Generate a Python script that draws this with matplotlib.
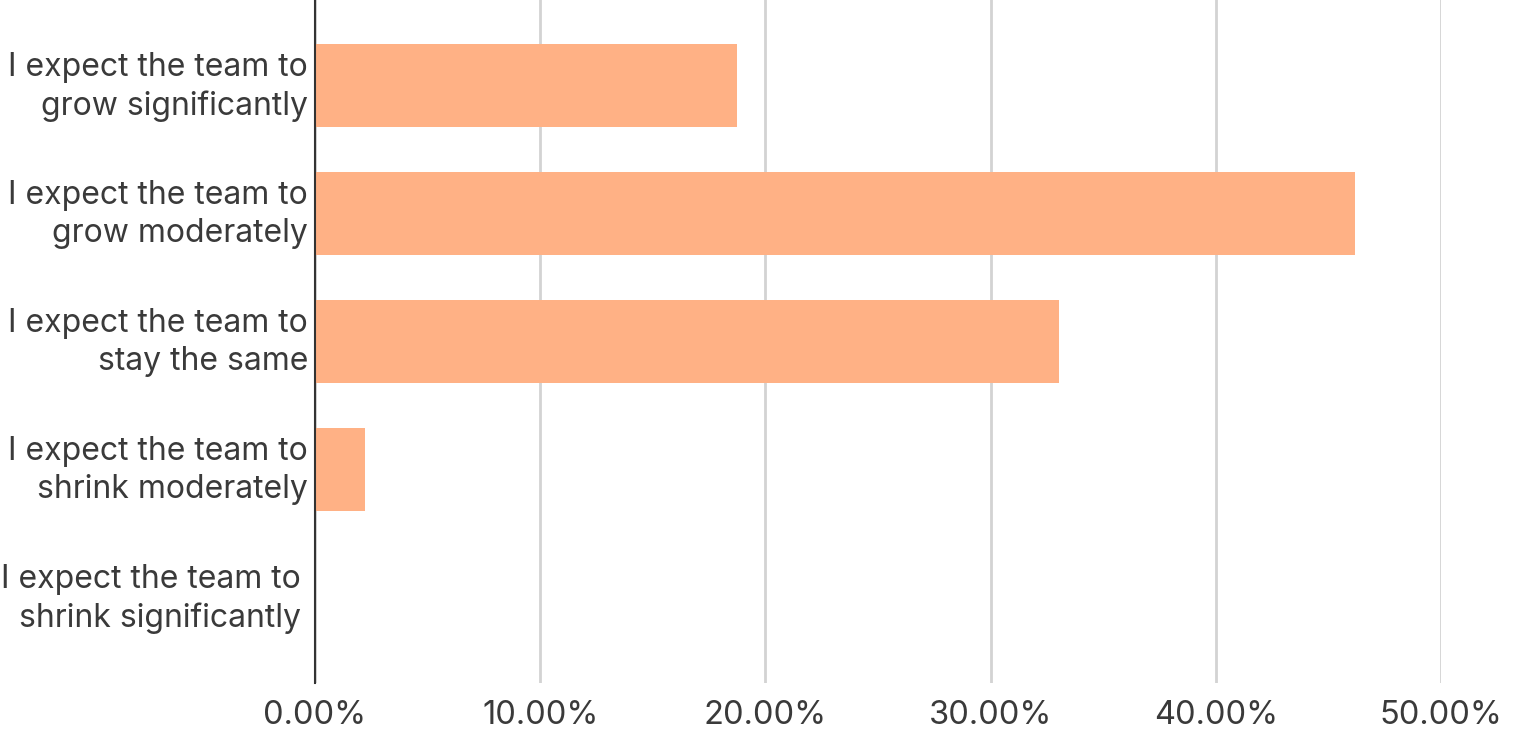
import matplotlib.pyplot as plt
import matplotlib.transforms as mtransforms
from matplotlib.ticker import FuncFormatter

plt.rcParams['font.family'] = ['Inter', 'DejaVu Sans']

labels = ['I expect the team to\ngrow significantly',
          'I expect the team to\ngrow moderately',
          'I expect the team to\nstay the same',
          'I expect the team to\nshrink moderately',
          'I expect the team to\nshrink significantly']
values = [18.74, 46.18, 33.04, 2.22, 0.0]

fig = plt.figure(figsize=(15.15, 7.35), dpi=100)
ax = fig.add_axes([315 / 1515, 52 / 735, 1126 / 1515, 683 / 735])

ax.barh(range(len(labels)), values, height=0.65, color='#ffb185', zorder=3)

ax.set_xlim(0, 50)
ax.set_ylim(len(labels) - 0.332, -0.668)
ax.set_xticks([0, 10, 20, 30, 40, 50])
ax.xaxis.set_major_formatter(FuncFormatter(lambda v, p: f'{v:.2f}%'))
ax.set_yticks(range(len(labels)))
ax.set_yticklabels(labels, linespacing=1.3)

ax.grid(axis='x', color='#d3d3d3', linewidth=2, zorder=0)
for s in ['top', 'right', 'bottom']:
    ax.spines[s].set_visible(False)
ax.spines['left'].set_color('#333333')
ax.spines['left'].set_linewidth(1.5)
ax.spines['left'].set_zorder(4)

ax.tick_params(axis='x', length=0, labelsize=23.5, labelcolor='#3a3a3a', pad=12)
ax.tick_params(axis='y', length=0, labelsize=23, labelcolor='#3a3a3a', pad=5)
ax.get_xticklabels()[-1].set_clip_on(False)

# labels sit slightly above the bar centre; the last one further left
ylabs = ax.get_yticklabels()
for i, lab in enumerate(ylabs):
    dx = -0.07 if i == len(ylabs) - 1 else 0
    lab.set_transform(lab.get_transform() +
                      mtransforms.ScaledTranslation(dx, 0.06, fig.dpi_scale_trans))

plt.savefig('out.png', dpi=100)
